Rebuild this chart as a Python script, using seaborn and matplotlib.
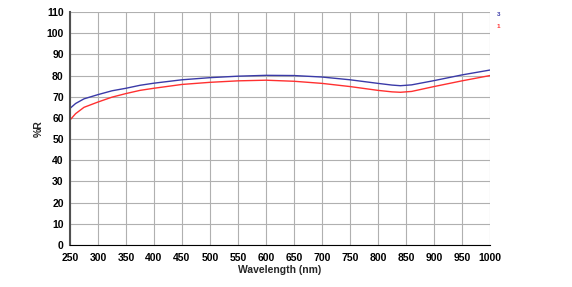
import matplotlib
matplotlib.use("Agg")
import matplotlib.pyplot as plt
import seaborn as sns
import pandas as pd

wavelength = [250, 260, 275, 300, 325, 350, 375, 400, 450, 500, 550, 600, 650, 700, 750, 800, 825, 840, 860, 900, 950, 1000]
series_3 = [64.5, 66.8, 69.0, 71.0, 72.8, 74.0, 75.4, 76.4, 78.0, 79.0, 79.7, 80.1, 80.0, 79.3, 78.0, 76.3, 75.5, 75.2, 75.6, 77.6, 80.3, 82.6]
series_1 = [59.0, 62.0, 65.0, 67.5, 69.8, 71.5, 73.0, 74.0, 75.8, 76.8, 77.5, 77.8, 77.3, 76.3, 74.8, 73.0, 72.3, 72.1, 72.5, 74.8, 77.5, 80.0]
x_ticks = list(range(250, 1001, 50))
y_ticks = list(range(0, 111, 10))

df = pd.DataFrame({
    "Wavelength": wavelength * 2,
    "R": series_3 + series_1,
    "Series": ["3"] * len(wavelength) + ["1"] * len(wavelength),
})

sns.set_theme(style="white")
plt.rcParams["font.family"] = ["Liberation Sans", "DejaVu Sans"]

fig = plt.figure(figsize=(5.72, 2.87), dpi=100)
ax = fig.add_axes([70/572, 42/287, 420/572, 233/287])

palette = {"3": "#3a3aa8", "1": "#ff3030"}
sns.lineplot(data=df, x="Wavelength", y="R", hue="Series", palette=palette,
             ax=ax, linewidth=1.0, legend=False, sort=True)

ax.set_xlim(250, 1000)
ax.set_ylim(0, 110)
ax.set_xticks(x_ticks)
ax.set_yticks(y_ticks)
ax.tick_params(axis="both", labelsize=7.5, length=3, width=0.8, direction="out", pad=1.5, colors="black")
ax.tick_params(axis="x", pad=3)
for lab in ax.get_xticklabels() + ax.get_yticklabels():
    lab.set_fontweight("bold")
ax.grid(True, color="#b0b0b0", linewidth=0.8)
for s in ["top", "right"]:
    ax.spines[s].set_visible(False)
ax.spines["left"].set_color("#505050")
ax.spines["left"].set_linewidth(1.5)
ax.spines["bottom"].set_color("black")
ax.spines["bottom"].set_linewidth(0.8)

ax.set_xlabel("Wavelength (nm)", fontsize=7.5, fontweight="bold", labelpad=1)
ax.set_ylabel("%R", fontsize=7.5, fontweight="bold", labelpad=2)

fig.text(497/572, 1 - 15/287, "3", color=palette["3"], fontsize=4.5, fontweight="bold", va="center")
fig.text(497/572, 1 - 27/287, "1", color=palette["1"], fontsize=4.5, fontweight="bold", va="center")

fig.savefig("out.png", dpi=100)
